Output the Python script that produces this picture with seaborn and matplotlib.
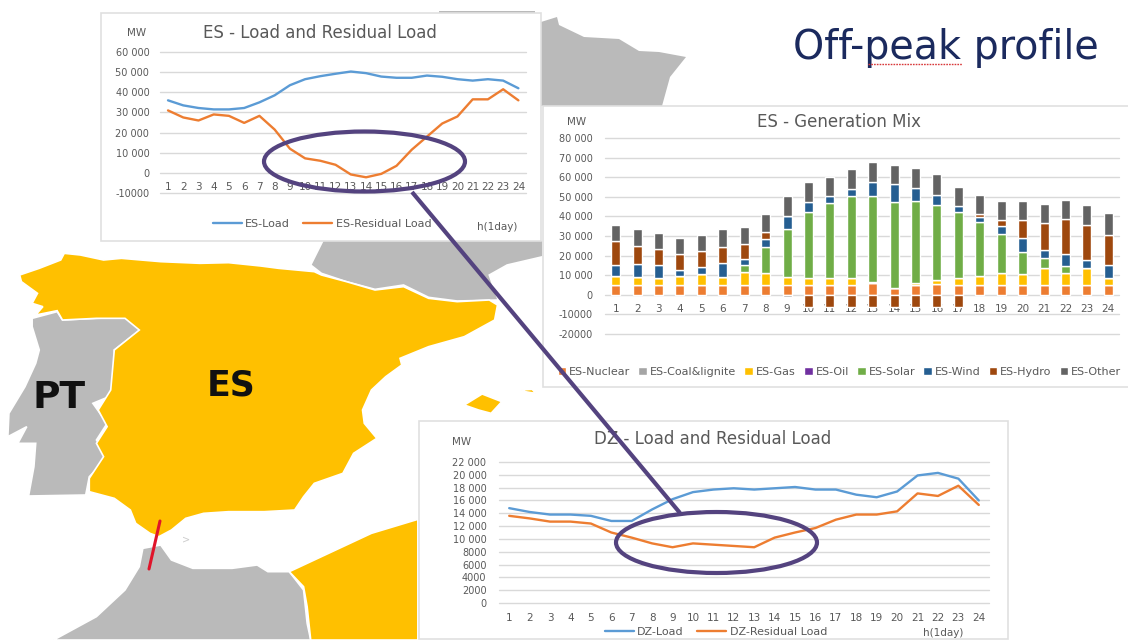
import numpy as np
import pandas as pd
import matplotlib
matplotlib.use("Agg")
import matplotlib.pyplot as plt
from matplotlib.patches import Ellipse, Rectangle
from matplotlib.ticker import FuncFormatter
import seaborn as sns

hours = list(range(1, 25))

es_load = [36000,33500,32200,31500,31500,32200,35000,38500,43500,46500,48000,49200,
           50300,49500,47800,47200,47200,48300,47700,46500,45800,46500,45800,42000]
es_residual = [31000,27500,26000,29000,28300,24800,28300,21500,12000,7200,6000,4000,
               -800,-2200,-500,3500,11500,18000,24500,28000,36500,36500,41500,36000]
dz_load = [14800,14200,13800,13800,13600,12800,12800,14600,16200,17300,17700,17900,
           17700,17900,18100,17700,17700,16900,16500,17400,19900,20300,19400,16000]
dz_residual = [13600,13200,12700,12700,12400,11000,10200,9300,8700,9300,9100,8900,
               8700,10200,11000,11700,13000,13800,13800,14300,17100,16700,18300,15300]

mix_nuclear = [5000]*12 + [6000,3500,5000,5500] + [5000]*8
mix_coal = [0]*8 + [-1000] + [0]*15
mix_gas = [4700,4000,3500,4500,5500,4000,6500,6000,4000,3500,3500,3500,
           500,0,1000,2300,3500,4800,6000,5500,8500,6000,8500,3500]
mix_oil = [0]*24
mix_solar = [0,0,0,0,0,0,3500,13500,24500,33500,38500,42000,
             44000,44000,42000,38200,33500,27200,20000,11500,5500,3500,0,0]
mix_wind = [5300,6500,6500,3000,3500,7000,3500,4000,6500,5500,3500,3500,
            7000,9000,6500,5000,3500,2500,4000,7000,4000,6500,4500,6500]
mix_hydro = [12500,9500,8500,8500,8500,8500,7500,3500,0,-6000,-6000,-6000,
             -6000,-6000,-6000,-6000,-6000,1500,3000,9000,13500,17500,17500,15500]
mix_other = [8000,8500,8000,8000,8000,9000,8500,9000,10500,10000,9500,10000,
             10500,9500,10000,10500,9500,10000,9700,9700,10000,10000,10500,11000]

mix_names = ["ES-Nuclear","ES-Coal&lignite","ES-Gas","ES-Oil","ES-Solar","ES-Wind","ES-Hydro","ES-Other"]
mix_values = [mix_nuclear, mix_coal, mix_gas, mix_oil, mix_solar, mix_wind, mix_hydro, mix_other]
mix_colors = ["#ED7D31","#A5A5A5","#FFC000","#7030A0","#70AD47","#255E91","#9E480E","#636363"]

spain = [(55,105),(110,85),(170,60),(180,40),(225,45),(290,60),(340,55),(450,65),(560,70),(640,68),(730,78),
         (780,85),(880,95),(900,105),(970,125),(1050,150),(1130,140),(1200,175),(1280,185),(1370,180),(1393,195),
         (1385,240),(1300,290),(1200,320),(1120,355),(1125,375),(1080,410),(1040,450),(1015,510),(1020,550),
         (1055,595),(990,640),(960,700),(880,730),(850,770),(825,810),(740,815),(640,815),(570,820),(520,835),
         (480,870),(445,890),(420,880),(380,850),(365,810),(320,775),(250,755),(250,715),(290,650),(270,610),
         (300,560),(275,510),(310,450),(320,330),(390,270),(350,235),(270,235),(175,240),(160,212),(100,225),
         (120,200),(90,190),(105,160),(60,125)]
portugal = [(90,235),(160,215),(175,240),(270,235),(350,232),(395,268),(320,330),(325,430),(305,470),(260,490),
            (300,550),(270,600),(305,650),(250,710),(240,765),(80,768),(95,680),(100,610),(50,610),(75,560),
            (22,590),(25,520),(70,440),(100,370),(110,330),(90,260)]
france = [(905,0),(870,75),(900,100),(970,125),(1050,148),(1130,135),(1200,172),(1280,183),(1395,180),
          (1370,105),(1420,75),(1520,50),(1520,0)]
morocco = [(400,925),(450,915),(480,960),(540,985),(650,985),(720,975),(750,995),(810,995),(850,1050),
           (860,1150),(870,1200),(150,1200),(270,1130),(350,1050),(390,980)]
algeria = [(810,995),(900,950),(960,920),(1040,880),(1170,838),(1170,1200),(870,1200),(860,1100),(850,1040)]
mallorca = [(1300,495),(1350,462),(1405,485),(1375,520),(1340,510)]
menorca = [(1460,450),(1490,448),(1500,460),(1470,455)]
france_east_x = [541,557,559,584,619,639,659,686,670,662,541]
france_east_y = [22,17,25,37,39,51,52,57,77,106,106]

GOLD, GREY, TXT, PURPLE = "#FFC000", "#BABABA", "#595959", "#54437F"
W, H = 1128, 641

sns.set_theme(style="white")
plt.rcParams["font.family"] = ["DejaVu Sans"]

fig = plt.figure(figsize=(W/100, H/100), dpi=100, facecolor="white")
bg = fig.add_axes([0, 0, 1, 1], zorder=0)
bg.set_xlim(0, W); bg.set_ylim(H, 0); bg.axis("off")

def to_px(pts):
    a = np.array(pts, dtype=float)
    return a[:, 0]/2.8, 240 + a[:, 1]/3

for poly, col in [(france, GREY), (morocco, GREY), (portugal, GREY), (spain, GOLD),
                  (algeria, GOLD), (mallorca, GOLD), (menorca, GOLD)]:
    xs, ys = to_px(poly)
    bg.fill(xs, ys, facecolor=col, edgecolor="white", linewidth=1.2)
bg.fill(france_east_x, france_east_y, color=GREY, lw=0)
bg.fill([439, 535, 535, 439], [11, 11, 14, 14], color=GREY, lw=0)
bg.plot([160, 149], [521, 569], color="#E0142A", lw=2.2, solid_capstyle="round")
bg.text(186, 539, ">", color="#CCCCCC", fontsize=7, ha="center", va="center")
bg.text(231, 385, "ES", fontsize=25, fontweight="bold", color="#111111", ha="center", va="center")
bg.text(59, 398, "PT", fontsize=27, fontweight="bold", color="#111111", ha="center", va="center")
bg.text(945.5, 48, "Off-peak profile", fontsize=28.5, color="#1B2A5E", ha="center", va="center")

for x0, y0, x1, y1 in [(101, 13, 541, 241), (543, 106, 1130, 387), (419, 421, 1008, 639)]:
    bg.add_patch(Rectangle((x0, y0), x1-x0, y1-y0, facecolor="white", edgecolor="#E0E0E0", lw=1.2))


def fmt(v, _):
    v = int(round(v))
    return f"{v:,}".replace(",", " ") if v >= 10000 else str(v)


def chart(x0, x1, ytop, ybot, ymin, ymax, step, title, title_x, title_pad, mw_xy, xpad, ypad):
    ax = fig.add_axes([x0/W, 1-ybot/H, (x1-x0)/W, (ybot-ytop)/H], zorder=1)
    ax.patch.set_visible(False)
    ax.set_ylim(ymin, ymax)
    ticks = np.arange(ymin, ymax+1, step)
    ax.set_yticks(ticks)
    for t in ticks:
        ax.axhline(t, color="#D9D9D9", lw=1, zorder=0.5, clip_on=False)
    ax.yaxis.set_major_formatter(FuncFormatter(fmt))
    ax.spines[["top", "right", "left"]].set_visible(False)
    ax.spines["bottom"].set_position(("data", 0))
    ax.spines["bottom"].set_visible(False)
    ax.tick_params(axis="both", length=0, labelsize=7, labelcolor=TXT)
    ax.tick_params(axis="x", pad=xpad, labelsize=7.5)
    ax.tick_params(axis="y", pad=ypad)
    ax.set_xlabel(""); ax.set_ylabel("")
    ax.set_title(title, x=title_x, pad=title_pad, fontsize=12, color=TXT)
    ax.text(mw_xy[0], mw_xy[1], "MW", transform=bg.transData, fontsize=7.5, color=TXT, ha="center", va="center")
    return ax


def lines(ax, a, b, name_a, name_b):
    sns.lineplot(x=hours, y=a, color="#5B9BD5", lw=1.7, label=name_a, ax=ax, legend=False)
    sns.lineplot(x=hours, y=b, color="#ED7D31", lw=1.7, label=name_b, ax=ax, legend=False)
    ax.set_xlim(0.5, 24.5)
    ax.set_xticks(hours)


# ES load
ax1 = chart(160.4, 526, 52, 193, -10000, 60000, 10000, "ES - Load and Residual Load", 0.437, 10, (137, 33), 6.5, 8)
lines(ax1, es_load, es_residual, "ES-Load", "ES-Residual Load")
ax1.legend(loc="center", bbox_to_anchor=(322, 224), bbox_transform=bg.transData, ncol=2, frameon=False,
           fontsize=8, labelcolor=TXT, handlelength=2.6, handletextpad=0.3, columnspacing=1.2)
ax1.text(497, 227, "h(1day)", transform=bg.transData, fontsize=7.5, color=TXT, ha="center", va="center")

# DZ load
ax3 = chart(499, 989, 462, 603, 0, 22000, 2000, "DZ - Load and Residual Load", 0.435, 13, (462, 442), 7, 9)
lines(ax3, dz_load, dz_residual, "DZ-Load", "DZ-Residual Load")
ax3.legend(loc="center", bbox_to_anchor=(716, 632), bbox_transform=bg.transData, ncol=2, frameon=False,
           fontsize=8, labelcolor=TXT, handlelength=2.6, handletextpad=0.3, columnspacing=1.2, borderpad=0)
ax3.text(943, 633, "h(1day)", transform=bg.transData, fontsize=7.5, color=TXT, ha="center", va="center")

# generation mix
ax2 = chart(605, 1119, 138, 334, -20000, 80000, 10000, "ES - Generation Mix", 0.455, 8, (577, 122), 6.5, 9)
labels = [str(h) for h in hours]
pos_base = np.zeros(24)
neg_base = np.zeros(24)
for name, vals, col in zip(mix_names, mix_values, mix_colors):
    v = np.array(vals, dtype=float)
    base = np.where(v >= 0, pos_base, neg_base)
    sns.barplot(x=labels, y=v, bottom=base, color=col, saturation=1, width=0.42, ax=ax2, label=name, errorbar=None, legend=False)
    pos_base += np.clip(v, 0, None)
    neg_base += np.clip(v, None, 0)
ax2.set_xlim(-0.5, 23.5)
ax2.legend(loc="center left", bbox_to_anchor=(552, 372), bbox_transform=bg.transData, ncol=8, frameon=False,
           fontsize=8, labelcolor=TXT, handlelength=0.8, handleheight=0.8, handletextpad=0.25, columnspacing=0.72, borderpad=0)

# overlay
ov = fig.add_axes([0, 0, 1, 1], zorder=2)
ov.set_xlim(0, W); ov.set_ylim(H, 0); ov.axis("off"); ov.patch.set_visible(False)
ov.plot([412, 680], [192, 513], color=PURPLE, lw=3, solid_capstyle="butt")
ov.add_patch(Ellipse((364.5, 161.5), 201, 60, fill=False, edgecolor=PURPLE, lw=3))
ov.add_patch(Ellipse((716.5, 542.5), 201, 61, fill=False, edgecolor=PURPLE, lw=3))
ov.plot([868, 962], [63.5, 63.5], color="#D8383A", lw=1, ls=(0, (1.2, 0.8)))

fig.savefig("out.png", dpi=100)
